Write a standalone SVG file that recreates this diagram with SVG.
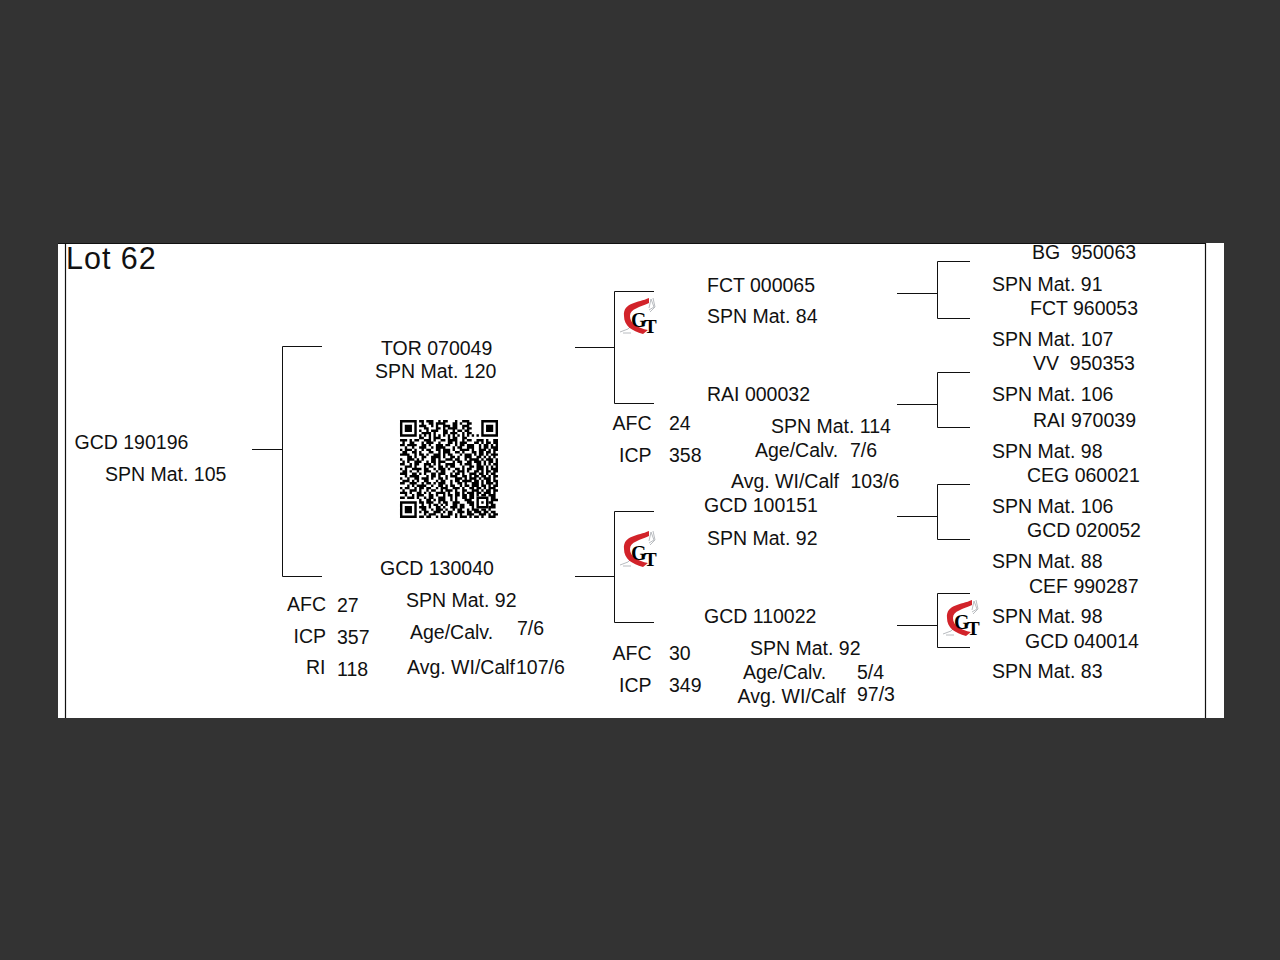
<svg xmlns="http://www.w3.org/2000/svg" width="1280" height="960" viewBox="0 0 1280 960">
<style>
text{font-family:"Liberation Sans",Arial,sans-serif;font-size:19.5px;fill:#111;white-space:pre}
.c{fill:none;stroke:#111;stroke-width:1}
.s{font-family:"Liberation Serif",serif;font-weight:bold;fill:#000}
</style>
<defs>
<g id="gt">
<path d="M29 12l2-9 3 8-5 3M33 2l2 9-5 5M0 36l8-3 3-3M3 37h8" fill="none" stroke="#b9bcc0" stroke-width="1"/>
<path d="M29 2C18 7 3 6 4 20C4 30 12 35 23 38L28 34C18 32 10 28 10 20C10 13 20 11 29 7Z" fill="#d2232a"/>
<text class="s" x="11" y="31" style="font-size:20px">G</text>
<text class="s" x="24" y="37" style="font-size:19px">T</text>
</g>
</defs>
<rect width="1280" height="960" fill="#333"/>
<rect x="58" y="243" width="1166" height="475" fill="#fff"/>
<path d="M58 243.5H1206" stroke="#111" stroke-width="1" fill="none"/>
<path d="M65.5 243V718M1205.5 243V718" stroke="#111" stroke-width="1.2" fill="none"/>
<g id="connectors">
<path class="c" d="M252 449.5H282M322 346.5H282.5V576.5H322"/>
<path class="c" d="M575 347.5H614M654 291.5H614.5V403.5H654"/>
<path class="c" d="M575 576.5H614M654 511.5H614.5V622.5H654"/>
<path class="c" d="M897 293.5H937M970 261.5H937.5V318.5H970"/>
<path class="c" d="M897 404.5H937M970 372.5H937.5V427.5H970"/>
<path class="c" d="M897 516.5H937M970 484.5H937.5V539.5H970"/>
<path class="c" d="M897 625.5H937M970 593.5H937.5V647.5H970"/>
</g>
<text id="lot" x="66" y="269" style="font-size:30.5px;letter-spacing:1px">Lot 62</text>
<g id="root"><text x="74.500" y="449">GCD 190196</text><text x="105" y="481">SPN Mat. 105</text></g>
<g id="qr"><g transform="translate(400 420) scale(2.39)" fill="none" stroke="#000" stroke-width="1.02">
<path d="M.5 .5h6v6h-6zM34.500 .5h6v6h-6zM.5 34.500h6v6h-6zM32.500 32.500h4v4h-4z"/>
<path fill="#000" stroke="none" d="M2 2h3v3h-3zM36 2h3v3h-3zM2 36h3v3h-3zM34 34h1v1h-1z"/>
<path d="M8 .5h2m1 0h3m2 0h1m1 0h2m3 0h1m2 0h3
M9 1.500h1m2 0h2m1 0h4m3 0h2m1 0h1m2 0h2
M8 2.500h3m2 0h1m1 0h1m2 0h3m1 0h2m2 0h3
M10 3.500h2m3 0h2m1 0h1m1 0h4m2 0h1m1 0h2
M8 4.500h1m2 0h1m1 0h3m2 0h2m2 0h1m1 0h2m1 0h2
M9 5.500h4m1 0h1m3 0h2m1 0h3m2 0h1m1 0h2
M8 6.500h1m1 0h1m1 0h1m1 0h1m1 0h1m1 0h1m1 0h1m1 0h1m1 0h1m1 0h1m1 0h1m1 0h1m1 0h1
M8 7.500h2m2 0h1m1 0h3m3 0h1m1 0h2m2 0h2
M0 8.500h3m1 0h1m1 0h2m2 0h3m1 0h1m2 0h2m1 0h4m2 0h1m1 0h2m2 0h3m1 0h1m2 0h2
M1 9.500h1m2 0h2m3 0h1m1 0h3m2 0h1m3 0h2m1 0h1m1 0h3m3 0h2m1 0h1m1 0h2M39 9.500h2
M0 10.500h2m1 0h4m2 0h2m1 0h1m2 0h3m1 0h2m2 0h1m1 0h2m1 0h3m2 0h1m1 0h2M38 10.500h1M40 10.500h1
M2 11.500h1m2 0h1m2 0h3m2 0h1m1 0h4m3 0h1m1 0h2m2 0h3m2 0h1m1 0h2M38 11.500h3
M0 12.500h1m1 0h3m1 0h1m2 0h1m1 0h2m2 0h2m1 0h3m1 0h1m2 0h4m1 0h1m2 0h3M37 12.500h1M39 12.500h2
M1 13.500h2m2 0h2m1 0h1m3 0h2m2 0h1m1 0h3m2 0h2m1 0h1m3 0h2m1 0h2M36 13.500h2M39 13.500h1
M0 14.500h4m2 0h1m1 0h2m1 0h1m2 0h3m1 0h1m1 0h2m3 0h1m1 0h3m1 0h1m1 0h2M36 14.500h1M38 14.500h3
M3 15.500h2m1 0h1m2 0h2m2 0h4m1 0h1m2 0h2m1 0h1m2 0h3m2 0h2m1 0h1M37 15.500h1M39 15.500h1
M0 16.500h1m2 0h3m1 0h1m1 0h1m3 0h2m1 0h1m2 0h3m1 0h2m2 0h1m1 0h4m1 0h1M36 16.500h3M40 16.500h1
M1 17.500h1m1 0h1m2 0h3m2 0h1m1 0h2m1 0h3m3 0h1m1 0h2m2 0h2m1 0h3m1 0h1M37 17.500h2M40 17.500h1
M0 18.500h2m2 0h1m1 0h2m2 0h3m1 0h1m1 0h1m2 0h4m2 0h1m1 0h3m2 0h2m1 0h1M37 18.500h1M39 18.500h2
M2 19.500h3m1 0h1m3 0h1m1 0h2m2 0h2m1 0h1m1 0h2m3 0h1m2 0h2m1 0h3M36 19.500h1M38 19.500h1M40 19.500h1
M0 20.500h1m1 0h1m2 0h4m1 0h2m2 0h1m1 0h3m1 0h1m2 0h2m1 0h1m1 0h2m2 0h3m1 0h1M38 20.500h3
M1 21.500h2m1 0h1m2 0h1m2 0h3m2 0h1m1 0h2m3 0h1m1 0h3m1 0h1m2 0h2m1 0h1M36 21.500h2M39 21.500h2
M0 22.500h3m2 0h2m1 0h1m1 0h1m2 0h2m1 0h3m2 0h1m1 0h2m1 0h1m2 0h3m1 0h2M36 22.500h1M38 22.500h2
M2 23.500h1m1 0h4m3 0h1m1 0h2m1 0h1m2 0h1m1 0h3m2 0h2m1 0h1m1 0h2M34 23.500h2M37 23.500h1M39 23.500h2
M0 24.500h1m2 0h1m2 0h2m1 0h3m1 0h1m2 0h2m1 0h1m3 0h3m1 0h1m1 0h3m1 0h1M35 24.500h3M39 24.500h1
M1 25.500h3m1 0h1m1 0h1m2 0h2m3 0h1m1 0h2m2 0h1m1 0h2m1 0h4M31 25.500h2M34 25.500h1M36 25.500h2M39 25.500h2
M0 26.500h2m2 0h3m2 0h1m1 0h2m1 0h1m1 0h3m2 0h1m2 0h2m1 0h1m2 0h3M34 26.500h1M36 26.500h3M40 26.500h1
M3 27.500h1m1 0h1m1 0h4m2 0h1m2 0h2m1 0h1m1 0h2m2 0h1m1 0h2m1 0h3M34 27.500h2M37 27.500h1M39 27.500h2
M0 28.500h1m1 0h2m2 0h1m1 0h2m1 0h2m2 0h1m1 0h3m2 0h3m1 0h1m2 0h2M32 28.500h2M35 28.500h1M37 28.500h3
M1 29.500h1m2 0h3m1 0h1m2 0h1m1 0h2m2 0h1m1 0h3m1 0h1m2 0h2m2 0h3M34 29.500h1M36 29.500h2M39 29.500h2
M0 30.500h3m1 0h1m2 0h2m1 0h1m1 0h1m2 0h4m1 0h1m2 0h2m1 0h1m1 0h3M32 30.500h2M35 30.500h3M39 30.500h1
M2 31.500h1m2 0h1m1 0h3m2 0h2m1 0h1m2 0h1m1 0h2m1 0h2m1 0h2M29 31.500h2M32 31.500h1M34 31.500h2M37 31.500h3
M0 32.500h2m1 0h3m1 0h1m2 0h1m1 0h2m2 0h3m2 0h1m1 0h1M26 32.500h2M29 32.500h2M38 32.500h2
M8 33.500h1m2 0h2m1 0h1m1 0h3m2 0h1m1 0h1M27 33.500h3M38 33.500h3
M8 34.500h2m1 0h3m2 0h1m1 0h2m2 0h3M28 34.500h3M37 34.500h2
M9 35.500h1m2 0h1m1 0h2m1 0h1m1 0h1m2 0h2m1 0h2M29 35.500h2M38 35.500h2
M8 36.500h3m1 0h1m2 0h2m1 0h1m2 0h3m1 0h2M30 36.500h1M37 36.500h3
M9 37.500h2m2 0h1m1 0h3m1 0h1m2 0h1m1 0h2m2 0h1m1 0h3m1 0h2m1 0h1
M8 38.500h1m1 0h2m2 0h3m1 0h1m1 0h2m2 0h3m1 0h2m1 0h3m1 0h2M38 38.500h2
M10 39.500h1m1 0h3m2 0h1m2 0h2m1 0h1m1 0h1m2 0h3m2 0h3M37 39.500h1M39 39.500h2
M8 40.500h2m1 0h2m2 0h1m1 0h4m2 0h1m1 0h3m1 0h1m1 0h2m1 0h1M37 40.500h3"/>
</g></g>
<g id="sire"><text x="381" y="355">TOR 070049</text><text x="375" y="378">SPN Mat. 120</text></g>
<g id="dam"><text x="380" y="575">GCD 130040</text><text x="406" y="607">SPN Mat. 92</text>
<text x="287" y="611">AFC</text><text x="337" y="612">27</text><text x="293.500" y="643">ICP</text><text x="337" y="644">357</text><text x="306" y="674">RI</text><text x="337" y="676">118</text>
<text x="410" y="639">Age/Calv.</text><text x="517" y="635">7/6</text><text x="407" y="674">Avg. WI/Calf</text><text x="516" y="674">107/6</text></g>
<g id="logo1"><use href="#gt" x="620" y="296"/></g>
<g id="logo2"><use href="#gt" x="620" y="529"/></g>
<g id="logo3"><use href="#gt" x="943" y="598"/></g>
<g id="fct"><text x="707" y="292">FCT 000065</text><text x="707" y="323">SPN Mat. 84</text></g>
<g id="rai"><text x="707" y="401">RAI 000032</text><text x="771" y="433">SPN Mat. 114</text><text x="612.500" y="430">AFC</text><text x="669" y="430">24</text><text x="619" y="462">ICP</text><text x="669" y="462">358</text>
<text x="755" y="457">Age/Calv.</text><text x="850" y="457">7/6</text><text x="731" y="488">Avg. WI/Calf</text><text x="850.500" y="488">103/6</text></g>
<g id="g100151"><text x="704" y="512">GCD 100151</text><text x="707" y="545">SPN Mat. 92</text></g>
<g id="g110022"><text x="704" y="623">GCD 110022</text><text x="750" y="655">SPN Mat. 92</text><text x="612.500" y="660">AFC</text><text x="669" y="660">30</text><text x="619" y="692">ICP</text><text x="669" y="692">349</text>
<text x="743" y="679">Age/Calv.</text><text x="857" y="679">5/4</text><text x="737.500" y="703">Avg. WI/Calf</text><text x="857" y="701">97/3</text></g>
<g id="gen3">
<text x="1032" y="259">BG  950063</text><text x="992" y="291">SPN Mat. 91</text>
<text x="1030" y="315">FCT 960053</text><text x="992" y="346">SPN Mat. 107</text>
<text x="1033" y="370">VV  950353</text><text x="992" y="401">SPN Mat. 106</text>
<text x="1033" y="427">RAI 970039</text><text x="992" y="458">SPN Mat. 98</text>
<text x="1027" y="482">CEG 060021</text><text x="992" y="513">SPN Mat. 106</text>
<text x="1027" y="537">GCD 020052</text><text x="992" y="568">SPN Mat. 88</text>
<text x="1029" y="593">CEF 990287</text><text x="992" y="623">SPN Mat. 98</text>
<text x="1025" y="648">GCD 040014</text><text x="992" y="678">SPN Mat. 83</text>
</g>
</svg>
